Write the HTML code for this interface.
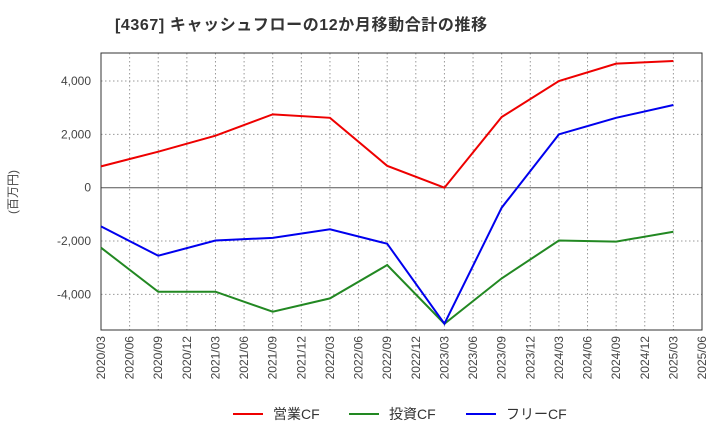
<!DOCTYPE html>
<html><head><meta charset="utf-8"><style>
body{margin:0;background:#fff;font-family:"Liberation Sans","Noto Sans CJK JP",sans-serif;}
svg text{font-family:"Liberation Sans","Noto Sans CJK JP",sans-serif;}
</style></head><body>
<svg id="c" width="720" height="440"></svg>
<script>
const labels=["2020/03","2020/06","2020/09","2020/12","2021/03","2021/06","2021/09","2021/12","2022/03","2022/06","2022/09","2022/12","2023/03","2023/06","2023/09","2023/12","2024/03","2024/06","2024/09","2024/12","2025/03","2025/06"];
const yTicks=[-4000,-2000,0,2000,4000];
const pointIdx=[0,2,4,6,8,10,12,14,16,18,20];
const opCF=[800,1350,1950,2750,2620,820,0,2650,4000,4650,4750];
const invCF=[-2250,-3900,-3900,-4650,-4150,-2900,-5100,-3400,-1980,-2020,-1650];
const freeCF=[-1450,-2550,-1980,-1880,-1560,-2100,-5100,-750,2000,2620,3100];
const NS="http://www.w3.org/2000/svg",svg=document.getElementById('c');
const L=101,R=702,T=53,B=330;
const x=i=>L+(R-L)*i/(labels.length-1);
const y=v=>187.7-v*(187.7-81)/4000;
function mk(t,a,p){const e=document.createElementNS(NS,t);for(const k in a)e.setAttribute(k,a[k]);(p||svg).appendChild(e);return e;}
const title=mk('text',{x:115,y:30,'font-size':16,'font-weight':'bold',fill:'#333','letter-spacing':0.6});


title.textContent='[4367]  キャッシュフローの12か月移動合計の推移';
const grid=mk('g',{});


labels.forEach((l,i)=>{
 mk('line',{x1:x(i),x2:x(i),y1:T,y2:B,stroke:'#999','stroke-dasharray':'1.5,2.5'},grid);
 const t=mk('text',{transform:`translate(${x(i)+4},${B+6}) rotate(-90)`,'text-anchor':'end','font-size':12,fill:'#444'});
 
 
 t.textContent=l;
});
yTicks.forEach(v=>{
 mk('line',{x1:L,x2:R,y1:y(v),y2:y(v),stroke:v===0?'#555':'#999','stroke-dasharray':v===0?'':'1.5,2.5'},grid);
 const t=mk('text',{x:L-10,y:y(v)+4,'text-anchor':'end','font-size':12,fill:'#444'});
 
 
 t.textContent=v.toLocaleString('en-US');
});
const frame=mk('rect',{x:L,y:T,width:R-L,height:B-T,fill:'none',stroke:'#333'});


const yt=mk('text',{transform:'translate(17,192) rotate(-90)','text-anchor':'middle','font-size':12,fill:'#444'});


yt.textContent='(百万円)';
const series=[[opCF,'#ee0000','operating-cf-line'],[invCF,'#228822','investing-cf-line'],[freeCF,'#0000ee','free-cf-line']];
series.forEach(([d,c,n])=>{
 const p=mk('polyline',{points:d.map((v,k)=>x(pointIdx[k])+','+y(v)).join(' '),fill:'none',stroke:c,'stroke-width':2});
 
 
});
const leg=[['営業CF','#ee0000',233],['投資CF','#228822',349],['フリーCF','#0000ee',466]];
leg.forEach(([t,c,lx])=>{
 const g=mk('g',{});
 
 
 mk('line',{x1:lx,x2:lx+30,y1:414,y2:414,stroke:c,'stroke-width':2},g);
 const tx=mk('text',{x:lx+40,y:419,'font-size':14,fill:'#333'},g);
 tx.textContent=t;
});
</script>
</body></html>
